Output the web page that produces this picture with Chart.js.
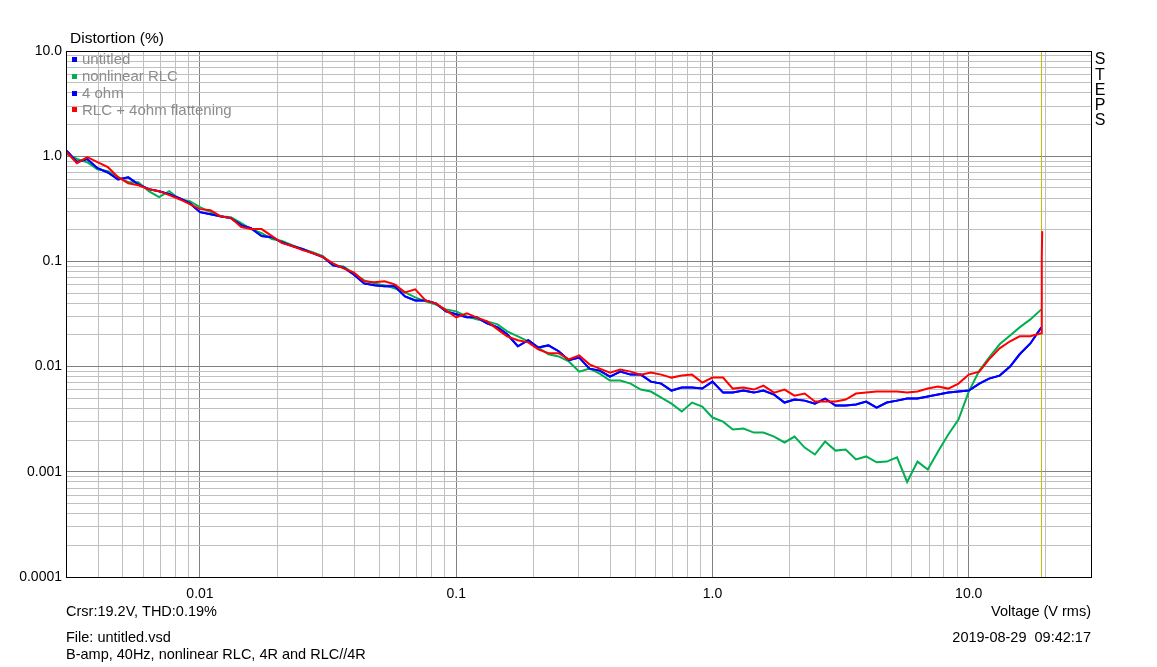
<!DOCTYPE html>
<html lang="en">
<head>
  <meta charset="UTF-8" />
  <title>Distortion vs Voltage</title>
  <script src="https://cdn.jsdelivr.net/npm/chart.js@4.4.0/dist/chart.umd.min.js"></script>
  <style>
    body { margin: 0; background: #fff; }
    .chart-wrapper { width: 1157px; height: 667px; position: relative; }
  </style>
</head>
<body>
  <div class="chart-wrapper"><canvas id="thd"></canvas></div>
  <script>
    // input level (V rms), shared by all sweeps
    const voltage = [
      0.00302, 0.00331, 0.00363, 0.00398, 0.00437, 0.00479, 0.00525, 0.00575, 0.00631, 0.00692, 0.00759, 0.00832, 0.00912,
      0.0100, 0.0110, 0.0120, 0.0132, 0.0145, 0.0158, 0.0174, 0.0191, 0.0209, 0.0229, 0.0251, 0.0275, 0.0302, 0.0331, 0.0363, 0.0398, 0.0437, 0.0479, 0.0525, 0.0575, 0.0631, 0.0692, 0.0759, 0.0832, 0.0912,
      0.100, 0.110, 0.120, 0.132, 0.145, 0.158, 0.174, 0.191, 0.209, 0.229, 0.251, 0.275, 0.302, 0.331, 0.363, 0.398, 0.437, 0.479, 0.525, 0.575, 0.631, 0.692, 0.759, 0.832, 0.912,
      1.00, 1.10, 1.20, 1.32, 1.45, 1.58, 1.74, 1.91, 2.09, 2.29, 2.51, 2.75, 3.02, 3.31, 3.63, 3.98, 4.37, 4.79, 5.25, 5.75, 6.31, 6.92, 7.59, 8.32, 9.12,
      10.0, 11.0, 12.0, 13.2, 14.5, 15.8, 17.4, 19.2
    ];

    // distortion (%)
    const ohm4 = [
      1.12, 0.88, 0.94, 0.77, 0.70, 0.60, 0.63, 0.54, 0.486, 0.465, 0.436, 0.399, 0.358, 0.294, 0.281, 0.269, 0.258, 0.221, 0.207, 0.174, 0.170, 0.152, 0.140, 0.131, 0.120, 0.110,
      0.0916, 0.0877, 0.0752, 0.0618, 0.0592, 0.0579, 0.0579, 0.0465, 0.0426, 0.0426, 0.0399, 0.0335,
      0.0314, 0.0294, 0.0294, 0.0258, 0.0236, 0.0203, 0.0156, 0.0178, 0.0152, 0.0159, 0.0140, 0.0115, 0.0122,
      0.00957, 0.00916, 0.00804, 0.00896, 0.00839, 0.00839, 0.00720, 0.00689, 0.00592, 0.00632, 0.00632, 0.00618,
      0.00720, 0.00566, 0.00566, 0.00592, 0.00566, 0.00592, 0.00542, 0.00455, 0.00486, 0.00475, 0.00445, 0.00497, 0.00426,
      0.00426, 0.00436, 0.00465, 0.00408, 0.00455, 0.00475, 0.00497, 0.00497, 0.00519, 0.00542, 0.00566, 0.00579,
      0.00592, 0.00689, 0.00769, 0.00821, 0.0100, 0.0131, 0.0166, 0.0236
    ];
    const untitled = ohm4; // same sweep, hidden under "4 ohm"
    const nonlinearRLC = [
      1.045, 0.94, 0.877, 0.752, 0.720, 0.632, 0.566, 0.566, 0.465, 0.408, 0.465, 0.390, 0.374, 0.328, 0.294, 0.269, 0.263, 0.231, 0.203, 0.186, 0.163, 0.156, 0.143, 0.131, 0.122, 0.112,
      0.0916, 0.0896, 0.0769, 0.0660, 0.0618, 0.0592, 0.0554, 0.0508, 0.0455, 0.0417, 0.0390, 0.0350,
      0.0335, 0.0300, 0.0281, 0.0269, 0.0252, 0.0216, 0.0194, 0.0174, 0.0152, 0.0131, 0.0125, 0.0112, 0.00896,
      0.00957, 0.00858, 0.00736, 0.00736, 0.00689, 0.00605, 0.00579, 0.00508, 0.00445, 0.00374, 0.00455, 0.00417,
      0.00328, 0.00300, 0.00252, 0.00258, 0.00236, 0.00236, 0.00216, 0.00190, 0.00216, 0.00170, 0.00146, 0.00194, 0.00159,
      0.00163, 0.00131, 0.00140, 0.00123, 0.00125, 0.00137, 0.00080, 0.00125, 0.00105, 0.00156, 0.00226, 0.00314,
      0.00579, 0.00916, 0.0122, 0.0163, 0.0198, 0.0236, 0.0281, 0.0350
    ];
    const rlcFlat = [
      1.091, 0.858, 0.978, 0.877, 0.786, 0.632, 0.554, 0.530, 0.486, 0.465, 0.426, 0.390, 0.350, 0.314, 0.307, 0.269, 0.258, 0.212, 0.203, 0.203, 0.174, 0.149, 0.140, 0.128, 0.120, 0.110,
      0.0957, 0.0858, 0.0786, 0.0646, 0.0632, 0.0646, 0.0605, 0.0508, 0.0542, 0.0426, 0.0399, 0.0342,
      0.0294, 0.0321, 0.0294, 0.0269, 0.0226, 0.0194, 0.0178, 0.0170, 0.0146, 0.0134, 0.0134, 0.0117, 0.0128,
      0.0105, 0.00957, 0.00877, 0.00937, 0.00896, 0.00839, 0.00877, 0.00839, 0.00786, 0.00821, 0.00839, 0.00705,
      0.00786, 0.00786, 0.00618, 0.00632, 0.00605, 0.00660, 0.00566, 0.00605, 0.00530, 0.00554, 0.00465, 0.00465, 0.00465,
      0.00486, 0.00554, 0.00566, 0.00579, 0.00579, 0.00579, 0.00566, 0.00579, 0.00618, 0.00646, 0.00618, 0.00689,
      0.00839, 0.00896, 0.0117, 0.0149, 0.0174, 0.0194, 0.0194, 0.0207
    ];
    // clipping spike at the end of the red sweep
    const rlcSpikeV = [19.25, 19.3, 19.35];
    const rlcSpikeD = [0.0632, 0.110, 0.194];

    const xMajorTicks = [0.01, 0.1, 1, 10];
    const xMajorLabels = ['0.01', '0.1', '1.0', '10.0'];
    const yMajorTicks = [0.0001, 0.001, 0.01, 0.1, 1, 10];
    const yMajorLabels = ['0.0001', '0.001', '0.01', '0.1', '1.0', '10.0'];
    const cursorVoltage = 19.2;

    const FONT = "'Liberation Sans', Arial, sans-serif";

    function toPoints(xs, ys) {
      return xs.map((v, i) => ({ x: v, y: ys[i] }));
    }

    function logTicks(min, max) {
      const ticks = [];
      for (let e = Math.floor(Math.log10(min)); e <= Math.ceil(Math.log10(max)); e++) {
        for (let m = 1; m <= 9; m++) {
          const v = parseFloat((m * Math.pow(10, e)).toPrecision(6));
          if (v >= min * 0.999 && v <= max * 1.001) ticks.push({ value: v });
        }
      }
      return ticks;
    }

    function isDecade(v) {
      const l = Math.log10(v);
      return Math.abs(l - Math.round(l)) < 1e-6;
    }

    function labelFor(v, ticks, labels) {
      const i = ticks.findIndex(t => Math.abs(Math.log10(t) - Math.log10(v)) < 1e-6);
      return i >= 0 ? labels[i] : '';
    }

    const overlay = {
      id: 'overlay',
      beforeDatasetsDraw(chart) {
        const { ctx, chartArea: a, scales: { x } } = chart;
        const cx = Math.round(x.getPixelForValue(cursorVoltage)) + 0.5;
        ctx.save();
        ctx.strokeStyle = '#c0c000';
        ctx.lineWidth = 1;
        ctx.beginPath();
        ctx.moveTo(cx, a.top);
        ctx.lineTo(cx, a.bottom);
        ctx.stroke();
        ctx.restore();
      },
      afterDraw(chart) {
        const { ctx, chartArea: a } = chart;
        ctx.save();
        ctx.strokeStyle = '#000';
        ctx.lineWidth = 1;
        ctx.strokeRect(a.left + 0.5, a.top + 0.5, a.right - a.left, a.bottom - a.top);

        // legend in the top-left corner of the plot
        ctx.textBaseline = 'middle';
        ctx.textAlign = 'left';
        ctx.font = '15px ' + FONT;
        chart.data.datasets.forEach((ds, i) => {
          const y = a.top + 8 + i * 16.8;
          ctx.fillStyle = ds.borderColor;
          ctx.fillRect(a.left + 6, Math.round(y) - 2, 5, 5);
          ctx.fillStyle = '#8c8c8c';
          ctx.fillText(ds.label, a.left + 16, y + 1);
        });

        ctx.fillStyle = '#000';
        ctx.font = '15.5px ' + FONT;
        ctx.fillText('Distortion (%)', 70, 39);

        ctx.font = '16px ' + FONT;
        ctx.textAlign = 'center';
        'STEPS'.split('').forEach((c, i) => ctx.fillText(c, a.right + 9, 60 + i * 15.2));

        ctx.font = '14.5px ' + FONT;
        ctx.textAlign = 'left';
        ctx.fillText('Crsr:19.2V, THD:0.19%', 66, 612);
        ctx.fillText('File: untitled.vsd', 66, 638);
        ctx.fillText('B-amp, 40Hz, nonlinear RLC, 4R and RLC//4R', 66, 655);
        ctx.textAlign = 'right';
        ctx.fillText('Voltage (V rms)', 1091, 612);
        ctx.fillText('2019-08-29  09:42:17', 1091, 638);
        ctx.restore();
      }
    };

    const gridColor = c => isDecade(c.tick.value) ? '#808080' : '#c0c0c0';

    new Chart(document.getElementById('thd'), {
      type: 'line',
      data: {
        datasets: [
          { label: 'untitled', data: toPoints(voltage, untitled), borderColor: '#0000ff', order: 3 },
          { label: 'nonlinear RLC', data: toPoints(voltage, nonlinearRLC), borderColor: '#00b050', order: 2 },
          { label: '4 ohm', data: toPoints(voltage, ohm4), borderColor: '#0000ff', order: 1 },
          { label: 'RLC + 4ohm flattening', data: toPoints(voltage, rlcFlat).concat(toPoints(rlcSpikeV, rlcSpikeD)), borderColor: '#ff0000', order: 0 }
        ]
      },
      options: {
        responsive: true,
        maintainAspectRatio: false,
        animation: false,
        elements: {
          line: { borderWidth: 2, tension: 0, fill: false },
          point: { radius: 0 }
        },
        layout: { padding: { top: 51, right: 66, bottom: 0, left: 0 } },
        plugins: {
          legend: { display: false },
          tooltip: { enabled: false }
        },
        scales: {
          x: {
            type: 'logarithmic',
            min: 0.003,
            max: 30,
            afterBuildTicks: s => { s.ticks = logTicks(0.003, 30); },
            afterFit: s => { s.height = 90; },
            border: { display: false },
            grid: { drawTicks: false, color: gridColor, lineWidth: 1 },
            ticks: {
              autoSkip: false,
              maxRotation: 0,
              minRotation: 0,
              padding: 9,
              color: '#000',
              font: { family: FONT, size: 14 },
              callback: v => labelFor(v, xMajorTicks, xMajorLabels)
            }
          },
          y: {
            type: 'logarithmic',
            min: 0.0001,
            max: 10,
            afterBuildTicks: s => { s.ticks = logTicks(0.0001, 10); },
            afterFit: s => { s.width = 66; },
            border: { display: false },
            grid: { drawTicks: false, color: gridColor, lineWidth: 1 },
            ticks: {
              autoSkip: false,
              padding: 4,
              color: '#000',
              font: { family: FONT, size: 14 },
              callback: v => labelFor(v, yMajorTicks, yMajorLabels)
            }
          }
        }
      },
      plugins: [overlay]
    });
  </script>
</body>
</html>
